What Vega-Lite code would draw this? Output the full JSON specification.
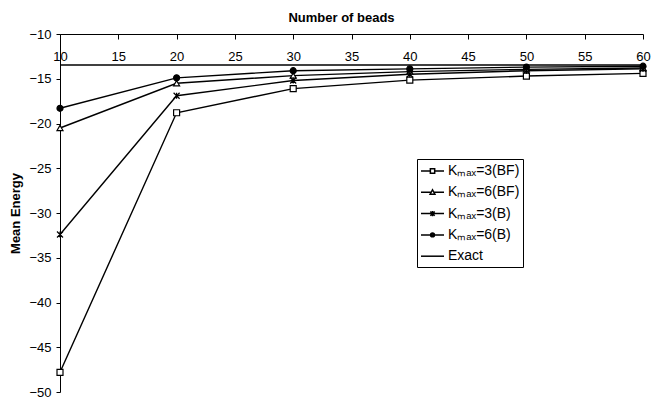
{
  "$schema": "https://vega.github.io/schema/vega-lite/v6.json",
  "width": 583,
  "height": 358,
  "autosize": {"type": "none"},
  "padding": {"left": 60, "top": 34, "right": 8, "bottom": 6},
  "background": "white",
  "config": {
    "font": "Liberation Sans",
    "view": {"stroke": null},
    "axis": {"labelFont": "Liberation Sans", "titleFont": "Liberation Sans", "labelColor": "black", "titleColor": "black", "domainColor": "black", "tickColor": "black", "grid": false}
  },
  "data": {
    "values": [
      {"beads": 10, "energy": -47.8, "series": "Kₘₐₓ=3(BF)"},
      {"beads": 20, "energy": -18.8, "series": "Kₘₐₓ=3(BF)"},
      {"beads": 30, "energy": -16.1, "series": "Kₘₐₓ=3(BF)"},
      {"beads": 40, "energy": -15.15, "series": "Kₘₐₓ=3(BF)"},
      {"beads": 50, "energy": -14.7, "series": "Kₘₐₓ=3(BF)"},
      {"beads": 60, "energy": -14.4, "series": "Kₘₐₓ=3(BF)"},
      {"beads": 10, "energy": -20.5, "series": "Kₘₐₓ=6(BF)"},
      {"beads": 20, "energy": -15.5, "series": "Kₘₐₓ=6(BF)"},
      {"beads": 30, "energy": -14.65, "series": "Kₘₐₓ=6(BF)"},
      {"beads": 40, "energy": -14.2, "series": "Kₘₐₓ=6(BF)"},
      {"beads": 50, "energy": -13.95, "series": "Kₘₐₓ=6(BF)"},
      {"beads": 60, "energy": -13.8, "series": "Kₘₐₓ=6(BF)"},
      {"beads": 10, "energy": -32.4, "series": "Kₘₐₓ=3(B)"},
      {"beads": 20, "energy": -16.9, "series": "Kₘₐₓ=3(B)"},
      {"beads": 30, "energy": -15.2, "series": "Kₘₐₓ=3(B)"},
      {"beads": 40, "energy": -14.5, "series": "Kₘₐₓ=3(B)"},
      {"beads": 50, "energy": -14.1, "series": "Kₘₐₓ=3(B)"},
      {"beads": 60, "energy": -13.9, "series": "Kₘₐₓ=3(B)"},
      {"beads": 10, "energy": -18.3, "series": "Kₘₐₓ=6(B)"},
      {"beads": 20, "energy": -14.9, "series": "Kₘₐₓ=6(B)"},
      {"beads": 30, "energy": -14.1, "series": "Kₘₐₓ=6(B)"},
      {"beads": 40, "energy": -13.9, "series": "Kₘₐₓ=6(B)"},
      {"beads": 50, "energy": -13.7, "series": "Kₘₐₓ=6(B)"},
      {"beads": 60, "energy": -13.6, "series": "Kₘₐₓ=6(B)"},
      {"beads": 10, "energy": -13.47, "series": "Exact"},
      {"beads": 60, "energy": -13.47, "series": "Exact"}
    ]
  },
  "encoding": {
    "x": {
      "field": "beads", "type": "quantitative",
      "scale": {"domain": [10, 60], "nice": false, "zero": false},
      "axis": {"orient": "top", "title": "Number of beads", "titleFontSize": 13, "titleFontWeight": "bold", "titlePadding": 9, "titleX": 281,
        "values": [10, 15, 20, 25, 30, 35, 40, 45, 50, 55, 60], "labelFontSize": 13, "tickSize": -5, "labelPadding": -24, "labelFlush": false, "labelOverlap": false}
    },
    "y": {
      "field": "energy", "type": "quantitative",
      "scale": {"domain": [-50, -10], "nice": false, "zero": false},
      "axis": {"title": "Mean Energy", "titleFontSize": 13, "titleFontWeight": "bold", "titlePadding": 6,
        "values": [-50, -45, -40, -35, -30, -25, -20, -15, -10], "labelFontSize": 13, "tickSize": 4, "labelPadding": 5}
    }
  },
  "layer": [
    {
      "mark": {"type": "line", "color": "black", "strokeWidth": 1.4},
      "encoding": {"detail": {"field": "series"}}
    },
    {
      "transform": [{"filter": "datum.series !== 'Exact'"}],
      "mark": {"type": "point", "filled": false, "stroke": "black", "strokeWidth": 1.2, "opacity": 1},
      "encoding": {
        "shape": {
          "field": "series", "type": "nominal",
          "scale": {
            "domain": ["Kₘₐₓ=3(BF)", "Kₘₐₓ=6(BF)", "Kₘₐₓ=3(B)", "Kₘₐₓ=6(B)", "Exact"],
            "range": ["square", "triangle-up", "M-1,-1L1,1M-1,1L1,-1M0,-1V1", "circle", "M-1,0H1"]
          },
          "legend": null
        },
        "fill": {
          "condition": {"test": "datum.series === 'Kₘₐₓ=6(B)' || datum.series === 'Kₘₐₓ=3(B)'", "value": "black"},
          "value": "white"
        },
        "size": {"value": 36}
      }
    },
    {
      "transform": [{"filter": "false"}],
      "mark": {"type": "point", "filled": false, "stroke": "black", "strokeWidth": 1.2, "opacity": 1},
      "encoding": {
        "shape": {
          "field": "series", "type": "nominal",
          "scale": {
            "domain": ["Kₘₐₓ=3(BF)", "Kₘₐₓ=6(BF)", "Kₘₐₓ=3(B)", "Kₘₐₓ=6(B)", "Exact"],
            "range": [
              "M-1,0H0.17M0.71,0H1.875M0.17,-0.27H0.71V0.27H0.17Z",
              "M-1,0H0.27M0.61,0H1.875M0.44,-0.32L0.74,0.24H0.14Z",
              "M-1,0H1.875M0.17,-0.27L0.71,0.27M0.17,0.27L0.71,-0.27M0.44,-0.32V0.32",
              "M-1,0H0.2M0.68,0H1.875M0.68,0A0.24,0.24 0 1,1 0.2,0A0.24,0.24 0 1,1 0.68,0ZM0.56,0A0.12,0.12 0 1,1 0.32,0A0.12,0.12 0 1,1 0.56,0Z",
              "M-1,0H1.875"
            ]
          },
          "legend": {
            "title": null,
            "orient": "none", "legendX": 357, "legendY": 125,
            "strokeColor": "black", "fillColor": "white",
            "padding": 3, "rowPadding": 5.3,
            "symbolSize": 256, "symbolOpacity": 1,
            "labelFontSize": 14, "labelFont": "Liberation Sans", "labelColor": "black", "labelOffset": 10
          }
        }
      }
    }
  ],
  "resolve": {"scale": {"shape": "independent"}, "legend": {"shape": "independent"}}
}
